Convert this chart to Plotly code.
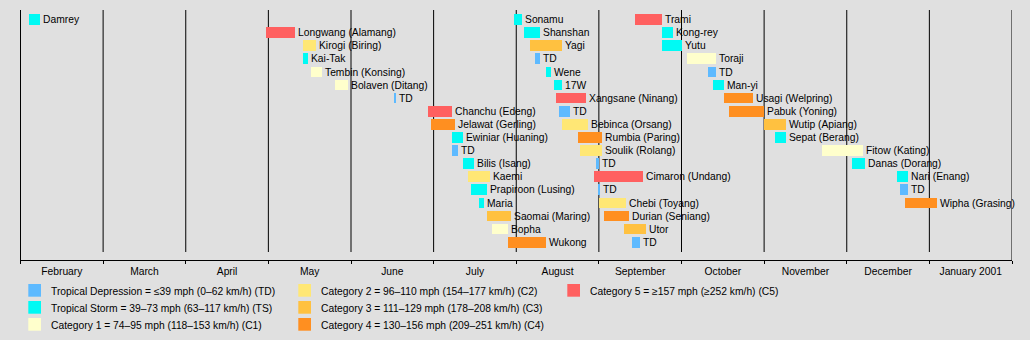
import calendar
import plotly.graph_objects as go

# ---------------- data ----------------
names = [
    "Damrey", "Longwang (Alamang)", "Kirogi (Biring)", "Kai-Tak", "Tembin (Konsing)",
    "Bolaven (Ditang)", "TD", "Chanchu (Edeng)", "Jelawat (Gerling)", "Ewiniar (Huaning)",
    "TD", "Bilis (Isang)", "Kaemi", "Prapiroon (Lusing)", "Maria", "Saomai (Maring)",
    "Bopha", "Wukong",
    "Sonamu", "Shanshan", "Yagi", "TD", "Wene", "17W", "Xangsane (Ninang)", "TD",
    "Bebinca (Orsang)", "Rumbia (Paring)", "Soulik (Rolang)", "TD", "Cimaron (Undang)",
    "TD", "Chebi (Toyang)", "Durian (Seniang)", "Utor", "TD",
    "Trami", "Kong-rey", "Yutu", "Toraji", "TD", "Man-yi", "Usagi (Welpring)",
    "Pabuk (Yoning)", "Wutip (Apiang)", "Sepat (Berang)", "Fitow (Kating)",
    "Danas (Dorang)", "Nari (Enang)", "TD", "Wipha (Grasing)",
]
starts = [
    "2000-02-04", "2000-04-30", "2000-05-14", "2000-05-14", "2000-05-17",
    "2000-05-26", "2000-06-17", "2000-06-29", "2000-06-30", "2000-07-08",
    "2000-07-08", "2000-07-12", "2000-07-14", "2000-07-15", "2000-07-18", "2000-07-21",
    "2000-07-23", "2000-07-29",
    "2000-07-31", "2000-08-04", "2000-08-06", "2000-08-08", "2000-08-12", "2000-08-15",
    "2000-08-16", "2000-08-17", "2000-08-18", "2000-08-24", "2000-08-25", "2000-08-31",
    "2000-08-30", "2000-09-01", "2000-09-01", "2000-09-03", "2000-09-10", "2000-09-13",
    "2000-09-14", "2000-09-24", "2000-09-24", "2000-10-03", "2000-10-11", "2000-10-13",
    "2000-10-17", "2000-10-19", "2000-11-01", "2000-11-05", "2000-11-22",
    "2000-12-03", "2000-12-20", "2000-12-21", "2000-12-23",
]
ends = [
    "2000-02-08", "2000-05-11", "2000-05-19", "2000-05-16", "2000-05-21",
    "2000-05-31", "2000-06-17", "2000-07-08", "2000-07-09", "2000-07-12",
    "2000-07-10", "2000-07-16", "2000-07-22", "2000-07-21", "2000-07-20", "2000-07-30",
    "2000-07-29", "2000-08-12",
    "2000-08-03", "2000-08-10", "2000-08-18", "2000-08-10", "2000-08-14", "2000-08-18",
    "2000-08-27", "2000-08-21", "2000-08-28", "2000-09-02", "2000-09-02", "2000-09-01",
    "2000-09-17", "2000-09-01", "2000-09-11", "2000-09-12", "2000-09-18", "2000-09-16",
    "2000-09-24", "2000-09-28", "2000-10-01", "2000-10-14", "2000-10-14", "2000-10-17",
    "2000-10-28", "2000-11-01", "2000-11-09", "2000-11-09", "2000-12-07",
    "2000-12-08", "2000-12-24", "2000-12-24", "2001-01-04",
]
cats = [
    "TS", "C5", "C2", "TS", "C1", "C1", "TD", "C5", "C4", "TS", "TD", "TS", "C2", "TS",
    "TS", "C3", "C1", "C4",
    "TS", "TS", "C3", "TD", "TS", "TS", "C5", "TD", "C2", "C4", "C2", "TD", "C5", "TD",
    "C2", "C4", "C3", "TD",
    "C5", "TS", "TS", "C1", "TD", "TS", "C4", "C4", "C3", "TS", "C1", "TS", "TS", "TD", "C4",
]
month_labels = ["February", "March", "April", "May", "June", "July", "August",
                "September", "October", "November", "December", "January 2001"]
legend_cats = ["TD", "TS", "C1", "C2", "C3", "C4", "C5"]
legend_texts = [
    "Tropical Depression = ≤39 mph (0–62 km/h) (TD)",
    "Tropical Storm = 39–73 mph (63–117 km/h) (TS)",
    "Category 1 = 74–95 mph (118–153 km/h) (C1)",
    "Category 2 = 96–110 mph (154–177 km/h) (C2)",
    "Category 3 = 111–129 mph (178–208 km/h) (C3)",
    "Category 4 = 130–156 mph (209–251 km/h) (C4)",
    "Category 5 = ≥157 mph (≥252 km/h) (C5)",
]

# ---------------- style ----------------
COLORS = {"TD": "#5ebaff", "TS": "#00faf4", "C1": "#ffffcc", "C2": "#ffe775",
          "C3": "#ffc140", "C4": "#ff8f20", "C5": "#ff6060"}
FONT = "Liberation Sans, Arial, Helvetica, sans-serif"
FS = 10.3
BG = "#e0e0e0"
W, H = 1030, 340
ML, MR, MT, MB = 20, 18, 10, 80
ROWS_PER_COL = 18
X0 = -0.006
PX_PER_MONTH = (W - ML - MR) / (12 - X0)
MIN_LEN = 1.1 / PX_PER_MONTH


def pos(s):
    y, m, d = map(int, s.split("-"))
    idx = (y - 2000) * 12 + (m - 2)
    return idx + (d - 1) / calendar.monthrange(y, m)[1]


fig = go.Figure()

for c in legend_cats:
    idx = [i for i, k in enumerate(cats) if k == c]
    bases, lens, rows, txt = [], [], [], []
    for i in idx:
        s, e = pos(starts[i]), pos(ends[i])
        L = e - s
        if L < MIN_LEN:
            s = s - (MIN_LEN - L) / 2
            L = MIN_LEN
        bases.append(s)
        lens.append(L)
        rows.append(i % ROWS_PER_COL)
        txt.append(names[i])
    fig.add_trace(go.Bar(
        orientation="h", base=bases, x=lens, y=rows, text=txt,
        textposition="outside", constraintext="none", textangle=0,
        textfont=dict(family=FONT, size=FS, color="#000000"),
        cliponaxis=False, width=0.82,
        marker=dict(color=COLORS[c], line=dict(width=0)),
        showlegend=False, hoverinfo="skip",
    ))

# grid lines (month boundaries)
plot_h = H - MT - MB
gap = 8 / plot_h
for k in range(13):
    fig.add_shape(type="line", xref="x", yref="paper", x0=k, x1=k,
                  y0=0 if k in (0, 12) else gap, y1=1,
                  line=dict(color="black", width=1), layer="below")

# manual legend
def px_x(p):
    return (p - ML) / (W - ML - MR)


def px_y(p):
    return (H - MB - p) / plot_h


col_x = [28.3, 298.3, 567.3]
row_y = [284, 301, 318]
SQ = 12.7
for j, c in enumerate(legend_cats):
    col, r = divmod(j, 3)
    x0, y0 = col_x[col], row_y[r]
    fig.add_shape(type="rect", xref="paper", yref="paper",
                  x0=px_x(x0), x1=px_x(x0 + SQ), y0=px_y(y0 + SQ), y1=px_y(y0),
                  fillcolor=COLORS[c], line=dict(width=0), layer="above")
    fig.add_annotation(xref="paper", yref="paper", x=px_x(x0 + 20.5),
                       y=px_y(y0 + SQ / 2 + 1), text=legend_texts[j],
                       showarrow=False, xanchor="left", yanchor="middle",
                       font=dict(family=FONT, size=FS, color="#000000"))

fig.update_layout(
    width=W, height=H, autosize=False,
    margin=dict(l=ML, r=MR, t=MT, b=MB, pad=0),
    paper_bgcolor=BG, plot_bgcolor=BG,
    barmode="overlay", bargap=0,
    xaxis=dict(range=[X0, 12], showgrid=False, zeroline=False,
               showline=True, linecolor="black", linewidth=1,
               tickmode="array", tickvals=[k + 0.5 for k in range(12)],
               ticktext=month_labels, ticks="", ticklen=0,
               ticklabelstandoff=2,
               tickfont=dict(family=FONT, size=FS, color="#000000"),
               minor=dict(tickmode="array", tickvals=list(range(13)),
                          ticks="outside", ticklen=3, tickwidth=1,
                          tickcolor="black", showgrid=False),
               fixedrange=True),
    yaxis=dict(range=[240.5 / 13.1, -9.5 / 13.1], showgrid=False, zeroline=False,
               showline=False, showticklabels=False, ticks="", fixedrange=True),
    showlegend=False,
)

fig.write_html("out.html")
